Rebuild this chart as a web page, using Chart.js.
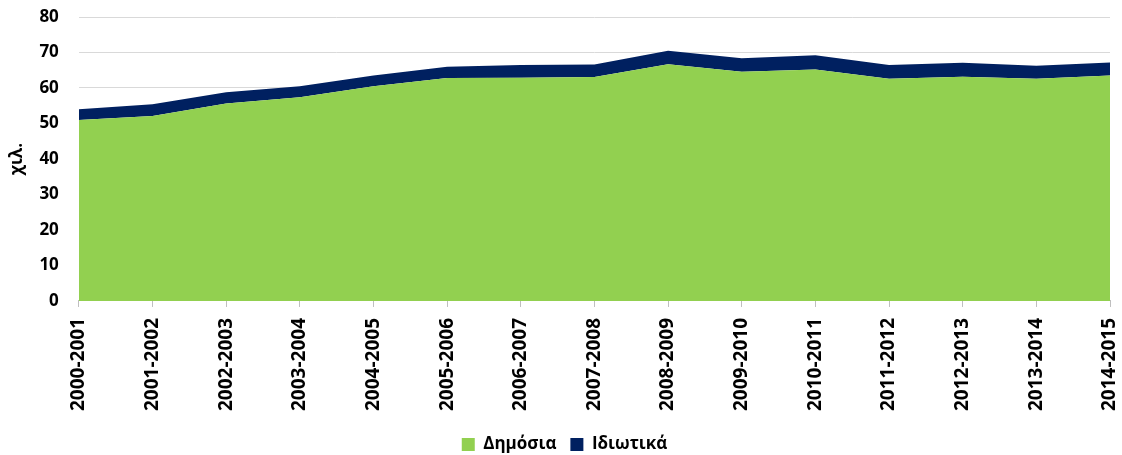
<!DOCTYPE html>
<html>
<head>
<meta charset="utf-8">
<script src="https://cdn.jsdelivr.net/npm/chart.js@4/dist/chart.umd.min.js"></script>
<style>
  html, body { margin: 0; padding: 0; background: #fff; }
  #wrap { width: 1122px; height: 455px; position: relative; }
</style>
</head>
<body>
<div id="wrap"><canvas id="grafica"></canvas></div>
<script>
// ακαδημαϊκά έτη
var etiquetas = ['2000-2001', '2001-2002', '2002-2003', '2003-2004', '2004-2005', '2005-2006', '2006-2007',
    '2007-2008', '2008-2009', '2009-2010', '2010-2011', '2011-2012', '2012-2013', '2013-2014', '2014-2015']

// χιλιάδες
var publicas = [51.0, 52.1, 55.6, 57.4, 60.5, 62.8, 62.9, 63.1, 66.7, 64.6, 65.2, 62.6, 63.2, 62.6, 63.5]
var privadas = [3.0, 3.3, 3.2, 3.1, 3.0, 3.2, 3.6, 3.5, 3.8, 3.8, 4.0, 3.9, 3.9, 3.7, 3.7]

var ticksY = [0, 10, 20, 30, 40, 50, 60, 70, 80]

var fuente = "'Open Sans', 'Liberation Sans', sans-serif"

var graf = new Chart('grafica', {
    type: 'line',
    data: {
        labels: etiquetas,
        datasets: [{
            label: 'Δημόσια',
            data: publicas,
            backgroundColor: '#92D050',
            borderColor: '#92D050',
            borderWidth: 0,
            pointRadius: 0,
            fill: 'origin',
            tension: 0
        }, {
            label: 'Ιδιωτικά',
            data: privadas,
            backgroundColor: '#002060',
            borderColor: '#002060',
            borderWidth: 0,
            pointRadius: 0,
            fill: '-1',
            tension: 0
        }]
    },
    options: {
        responsive: true,
        maintainAspectRatio: false,
        animation: false,
        layout: { padding: { top: 0, right: 0, left: 7, bottom: -8 } },
        plugins: {
            legend: {
                position: 'bottom',
                labels: {
                    color: '#000',
                    boxWidth: 13,
                    boxHeight: 13,
                    padding: 14,
                    font: { family: fuente, size: 17, weight: 'bold' }
                }
            },
            tooltip: { enabled: false }
        },
        scales: {
            x: {
                offset: false,
                afterFit: function (s) {
                    s.paddingLeft = 0
                    s.paddingRight = 12
                },
                grid: {
                    drawOnChartArea: false,
                    color: '#bfbfbf',
                    tickLength: 6
                },
                border: { color: '#bfbfbf' },
                ticks: {
                    color: '#000',
                    minRotation: 90,
                    maxRotation: 90,
                    padding: 11,
                    autoSkip: false,
                    font: { family: fuente, size: 19, weight: 'bold' }
                }
            },
            y: {
                stacked: true,
                min: 0,
                max: 80,
                afterBuildTicks: function (eje) {
                    eje.ticks = ticksY.map(function (v) { return { value: v } })
                },
                afterFit: function (s) {
                    s.paddingTop = 17
                    s.width = s.width - 16
                },
                grid: { color: '#d9d9d9', drawTicks: false },
                border: { display: false },
                ticks: {
                    color: '#000',
                    padding: 20,
                    font: { family: fuente, size: 17, weight: 'bold' }
                },
                title: {
                    display: true,
                    text: 'χιλ.',
                    color: '#000',
                    padding: { top: 0, bottom: 8 },
                    font: { family: fuente, size: 17, weight: 'bold' }
                }
            }
        }
    }
})
</script>
</body>
</html>
